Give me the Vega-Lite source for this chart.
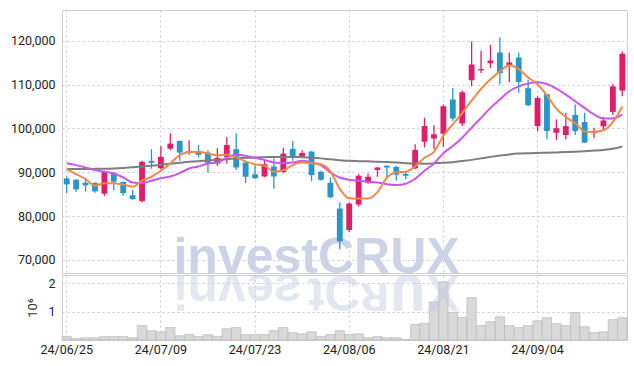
{
  "$schema": "https://vega.github.io/schema/vega-lite/v6.json",
  "padding": {"left": 9, "top": 9, "right": 8, "bottom": 5},
  "background": "white",
  "spacing": 0,
  "config": {
    "view": {"stroke": "#cfcfcf", "strokeWidth": 1},
    "axis": {
      "labelFont": "Roboto, sans-serif",
      "labelFontSize": 12.5,
      "labelColor": "#222222",
      "gridColor": "#c5c8dc",
      "gridDash": [2, 3],
      "gridWidth": 1,
      "domain": false,
      "ticks": false,
      "labelPadding": 7,
      "titleFont": "Roboto, sans-serif",
      "titleFontWeight": "normal",
      "titleFontSize": 13,
      "titleColor": "#333333"
    }
  },
  "data": {
    "values": [
      {"d":"24/06/25","o":88570,"h":89180,"l":85170,"c":87210,"v":120000,"m5":90700,"m10":92060,"m60":90700},
      {"d":"24/06/26","o":88280,"h":88400,"l":85560,"c":86080,"v":50000,"m5":89570,"m10":91610,"m60":90700},
      {"d":"24/06/27","o":87600,"h":88730,"l":85560,"c":86980,"v":80000,"m5":88440,"m10":91070,"m60":90725},
      {"d":"24/06/28","o":87530,"h":87700,"l":85330,"c":85620,"v":80000,"m5":86920,"m10":90480,"m60":90750},
      {"d":"24/07/01","o":85100,"h":90320,"l":84600,"c":90100,"v":120000,"m5":87480,"m10":90090,"m60":90770},
      {"d":"24/07/02","o":89860,"h":90000,"l":85900,"c":87820,"v":120000,"m5":87480,"m10":89700,"m60":90840},
      {"d":"24/07/03","o":87760,"h":87900,"l":84650,"c":85220,"v":120000,"m5":87140,"m10":88800,"m60":90950},
      {"d":"24/07/04","o":84720,"h":86010,"l":83700,"c":83860,"v":80000,"m5":86690,"m10":87660,"m60":91110},
      {"d":"24/07/05","o":83400,"h":92590,"l":83060,"c":92360,"v":510000,"m5":88050,"m10":87530,"m60":91270},
      {"d":"24/07/08","o":92590,"h":95240,"l":90770,"c":92130,"v":330000,"m5":88960,"m10":88050,"m60":91450},
      {"d":"24/07/09","o":90880,"h":95990,"l":90660,"c":93490,"v":290000,"m5":90320,"m10":88620,"m60":91680},
      {"d":"24/07/10","o":95370,"h":98870,"l":95010,"c":96510,"v":440000,"m5":92000,"m10":89030,"m60":91900},
      {"d":"24/07/11","o":97120,"h":97200,"l":92590,"c":94470,"v":150000,"m5":93900,"m10":89800,"m60":92130},
      {"d":"24/07/12","o":94400,"h":97280,"l":93950,"c":94850,"v":200000,"m5":94630,"m10":90840,"m60":92360},
      {"d":"24/07/15","o":94630,"h":96210,"l":93330,"c":93950,"v":120000,"m5":94690,"m10":91290,"m60":92520},
      {"d":"24/07/16","o":94470,"h":95010,"l":89930,"c":92130,"v":190000,"m5":94240,"m10":91970,"m60":92650},
      {"d":"24/07/17","o":91970,"h":95470,"l":91450,"c":93270,"v":130000,"m5":93830,"m10":92200,"m60":92810},
      {"d":"24/07/18","o":93490,"h":98030,"l":91970,"c":96210,"v":400000,"m5":94060,"m10":93330,"m60":92970},
      {"d":"24/07/19","o":95240,"h":98870,"l":90480,"c":91070,"v":440000,"m5":93380,"m10":93950,"m60":93150},
      {"d":"24/07/22","o":92200,"h":92360,"l":87480,"c":88960,"v":190000,"m5":92470,"m10":93720,"m60":93270},
      {"d":"24/07/23","o":89520,"h":91610,"l":88440,"c":88620,"v":190000,"m5":91790,"m10":93270,"m60":93330},
      {"d":"24/07/24","o":89030,"h":92970,"l":88840,"c":91840,"v":190000,"m5":91500,"m10":92810,"m60":93420},
      {"d":"24/07/25","o":91290,"h":93110,"l":86240,"c":89030,"v":330000,"m5":90100,"m10":92200,"m60":93490},
      {"d":"24/07/26","o":90020,"h":95600,"l":89750,"c":94240,"v":440000,"m5":90430,"m10":92060,"m60":93490},
      {"d":"24/07/29","o":95310,"h":97120,"l":92590,"c":93330,"v":260000,"m5":91600,"m10":92200,"m60":93490},
      {"d":"24/07/30","o":93560,"h":95010,"l":93270,"c":94400,"v":220000,"m5":92200,"m10":92590,"m60":93420},
      {"d":"24/07/31","o":94690,"h":94850,"l":87890,"c":89340,"v":290000,"m5":92020,"m10":92200,"m60":93310},
      {"d":"24/08/01","o":90090,"h":90300,"l":88050,"c":88280,"v":120000,"m5":91790,"m10":91610,"m60":93150},
      {"d":"24/08/02","o":87600,"h":88800,"l":84080,"c":84260,"v":190000,"m5":90200,"m10":89930,"m60":92930},
      {"d":"24/08/05","o":81700,"h":83060,"l":72400,"c":74220,"v":330000,"m5":86170,"m10":88800,"m60":92740},
      {"d":"24/08/06","o":76830,"h":83060,"l":76330,"c":82830,"v":200000,"m5":84040,"m10":88280,"m60":92590},
      {"d":"24/08/07","o":82610,"h":89570,"l":82150,"c":89180,"v":220000,"m5":83970,"m10":88050,"m60":92520},
      {"d":"24/08/08","o":87600,"h":89710,"l":87370,"c":88960,"v":80000,"m5":83970,"m10":87820,"m60":92470},
      {"d":"24/08/09","o":90480,"h":91220,"l":88960,"c":91070,"v":120000,"m5":85440,"m10":87660,"m60":92400},
      {"d":"24/08/12","o":91450,"h":91570,"l":88660,"c":91070,"v":80000,"m5":88730,"m10":87260,"m60":92310},
      {"d":"24/08/13","o":91220,"h":91450,"l":88050,"c":89410,"v":80000,"m5":89930,"m10":87070,"m60":92200},
      {"d":"24/08/14","o":89570,"h":90020,"l":88440,"c":89180,"v":20000,"m5":90100,"m10":87370,"m60":92060},
      {"d":"24/08/16","o":90880,"h":96370,"l":90660,"c":95080,"v":550000,"m5":91300,"m10":88500,"m60":91970},
      {"d":"24/08/19","o":96960,"h":102400,"l":95690,"c":100520,"v":590000,"m5":93300,"m10":90320,"m60":91950},
      {"d":"24/08/20","o":97690,"h":100680,"l":95240,"c":98640,"v":1350000,"m5":94650,"m10":91970,"m60":92020},
      {"d":"24/08/21","o":98780,"h":105440,"l":95760,"c":105060,"v":2060000,"m5":98300,"m10":94290,"m60":92130},
      {"d":"24/08/22","o":106580,"h":109210,"l":101660,"c":102270,"v":980000,"m5":100900,"m10":95990,"m60":92290},
      {"d":"24/08/23","o":101090,"h":108620,"l":100520,"c":108230,"v":800000,"m5":103500,"m10":97870,"m60":92540},
      {"d":"24/08/26","o":110950,"h":119800,"l":109590,"c":114580,"v":1500000,"m5":106300,"m10":100140,"m60":92810},
      {"d":"24/08/27","o":113220,"h":117690,"l":112610,"c":113520,"v":510000,"m5":109000,"m10":102400,"m60":93150},
      {"d":"24/08/28","o":114880,"h":119050,"l":113740,"c":115490,"v":650000,"m5":111200,"m10":104670,"m60":93490},
      {"d":"24/08/29","o":117300,"h":120700,"l":109980,"c":112610,"v":820000,"m5":113000,"m10":106580,"m60":93790},
      {"d":"24/08/30","o":114240,"h":117230,"l":110500,"c":115030,"v":510000,"m5":114400,"m10":108460,"m60":94060},
      {"d":"24/09/02","o":116170,"h":117300,"l":108120,"c":110570,"v":440000,"m5":113500,"m10":109590,"m60":94240},
      {"d":"24/09/03","o":109140,"h":111110,"l":105060,"c":105280,"v":510000,"m5":111600,"m10":110200,"m60":94330},
      {"d":"24/09/04","o":100520,"h":107330,"l":99390,"c":106940,"v":680000,"m5":110050,"m10":110500,"m60":94400},
      {"d":"24/09/05","o":107780,"h":107850,"l":97510,"c":99390,"v":790000,"m5":107500,"m10":110110,"m60":94440},
      {"d":"24/09/06","o":99000,"h":102040,"l":97350,"c":100000,"v":580000,"m5":104500,"m10":109070,"m60":94510},
      {"d":"24/09/09","o":98480,"h":103540,"l":97510,"c":100520,"v":510000,"m5":102600,"m10":107710,"m60":94580},
      {"d":"24/09/10","o":103020,"h":105440,"l":98480,"c":99390,"v":970000,"m5":101200,"m10":106190,"m60":94670},
      {"d":"24/09/11","o":101430,"h":103540,"l":96670,"c":96740,"v":470000,"m5":99300,"m10":104670,"m60":94780},
      {"d":"24/09/12","o":98930,"h":100140,"l":97730,"c":99160,"v":260000,"m5":99200,"m10":103170,"m60":94920},
      {"d":"24/09/13","o":100450,"h":102560,"l":99390,"c":101810,"v":290000,"m5":99550,"m10":102270,"m60":95080},
      {"d":"24/09/19","o":103760,"h":110110,"l":103020,"c":109590,"v":720000,"m5":101400,"m10":102270,"m60":95350},
      {"d":"24/09/20","o":108620,"h":117530,"l":107330,"c":117010,"v":790000,"m5":105000,"m10":103170,"m60":95870}
    ]
  },
  "vconcat": [
    {
      "width": 565,
      "height": 263,
      "encoding": {
        "x": {
          "field": "d", "type": "ordinal", "sort": null,
          "scale": {"paddingInner": 0, "paddingOuter": 0},
          "axis": {"values": ["24/06/25","24/07/09","24/07/23","24/08/06","24/08/21","24/09/04"], "labels": false, "grid": true, "bandPosition": 0.5, "title": null, "minExtent": 0, "maxExtent": 0, "labelPadding": 0}
        }
      },
      "layer": [
        {
          "mark": {"type": "text", "clip": true, "font": "Liberation Sans, Arial, sans-serif", "fontWeight": "bold", "fontSize": 50, "color": "#cdd2e6", "baseline": "alphabetic", "align": "center", "dx": 5},
          "encoding": {
            "y": {"datum": 67000, "type": "quantitative", "scale": {"domain": [67000, 127000], "nice": false, "zero": false}},
            "text": {"condition": {"test": "datum.d == '24/07/31'", "value": "investCRUX"}, "value": ""}
          }
        },
        {
          "mark": {"type": "rule", "strokeWidth": 1.3},
          "encoding": {
            "y": {"field": "l", "type": "quantitative", "title": null,
                  "scale": {"domain": [67000, 127000], "nice": false, "zero": false},
                  "axis": {"values": [70000, 80000, 90000, 100000, 110000, 120000], "format": ",d", "grid": true}},
            "y2": {"field": "h"},
            "color": {"condition": {"test": "datum.c >= datum.o", "value": "#e11d69"}, "value": "#2b95c8"}
          }
        },
        {
          "mark": {"type": "bar", "width": {"band": 0.62}},
          "encoding": {
            "y": {"field": "o", "type": "quantitative", "title": null},
            "y2": {"field": "c"},
            "color": {"condition": {"test": "datum.c >= datum.o", "value": "#e11d69"}, "value": "#2b95c8"}
          }
        },
        {
          "mark": {"type": "line", "color": "#7d7d7d", "strokeWidth": 2, "interpolate": "monotone"},
          "encoding": {"y": {"field": "m60", "type": "quantitative", "title": null}}
        },
        {
          "mark": {"type": "line", "color": "#cc55ee", "strokeWidth": 2, "interpolate": "monotone"},
          "encoding": {"y": {"field": "m10", "type": "quantitative", "title": null}}
        },
        {
          "mark": {"type": "line", "color": "#f0884a", "strokeWidth": 2, "interpolate": "monotone"},
          "encoding": {"y": {"field": "m5", "type": "quantitative", "title": null}}
        }
      ]
    },
    {
      "width": 565,
      "height": 65,
      "encoding": {
        "x": {
          "field": "d", "type": "ordinal", "sort": null,
          "scale": {"paddingInner": 0, "paddingOuter": 0},
          "axis": {"values": ["24/06/25","24/07/09","24/07/23","24/08/06","24/08/21","24/09/04"], "labelAngle": 0, "labelPadding": 3, "grid": true, "bandPosition": 0.5, "title": null}
        }
      },
      "layer": [
        {
          "mark": {"type": "bar", "color": "#d9d9d9", "stroke": "#b3b3b3", "strokeWidth": 0.6},
          "encoding": {
            "y": {
              "field": "v", "type": "quantitative", "title": "10⁶",
              "scale": {"domain": [0, 2300000], "nice": false},
              "axis": {"values": [1000000, 2000000], "labelExpr": "datum.value / 1000000", "grid": true, "titlePadding": 8}
            }
          }
        },
        {
          "mark": {"type": "text", "clip": true, "font": "Liberation Sans, DejaVu Sans, sans-serif", "fontWeight": "bold", "fontSize": 50, "color": "#c5cae0", "opacity": 0.45, "baseline": "alphabetic", "align": "center", "dx": -131, "dy": 36},
          "encoding": {
            "y": {"datum": 2300000, "type": "quantitative"},
            "text": {"condition": {"test": "datum.d == '24/07/31'", "value": "!"}, "value": ""}
          }
        },
        {
          "mark": {"type": "text", "clip": true, "font": "Liberation Sans, DejaVu Sans, sans-serif", "fontWeight": "bold", "fontSize": 50, "color": "#c5cae0", "opacity": 0.45, "baseline": "alphabetic", "align": "left", "dx": -124, "dy": 26},
          "encoding": {
            "y": {"datum": 2300000, "type": "quantitative"},
            "text": {"condition": {"test": "datum.d == '24/07/31'", "value": "uʌǝƨ"}, "value": ""}
          }
        },
        {
          "mark": {"type": "text", "clip": true, "font": "Liberation Sans, DejaVu Sans, sans-serif", "fontWeight": "bold", "fontSize": 50, "color": "#c5cae0", "opacity": 0.45, "baseline": "alphabetic", "align": "right", "dx": 148, "dy": 36},
          "encoding": {
            "y": {"datum": 2300000, "type": "quantitative"},
            "text": {"condition": {"test": "datum.d == '24/07/31'", "value": "ʇCᴚՈX"}, "value": ""}
          }
        }
      ]
    }
  ]
}
